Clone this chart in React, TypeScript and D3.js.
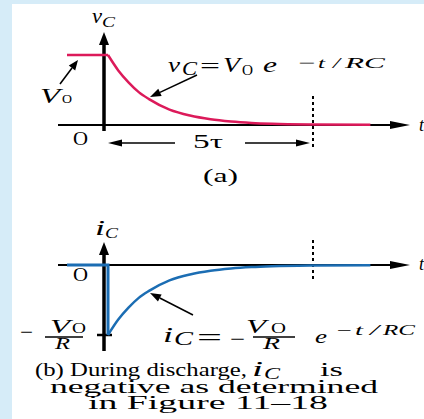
import React from "react";
import * as d3 from "d3";

// Discharge curve samples, in units of the time constant tau and of the initial value
const decayT = [0, 0.25, 0.5, 0.75, 1, 1.5, 2, 2.5, 3, 3.5, 4, 5, 6.4];
const decayV = [1, 0.78, 0.61, 0.47, 0.37, 0.22, 0.135, 0.082, 0.05, 0.03, 0.018, 0.007, 0.002];
// Level held before the switch closes
const preT = [-1, 0];
const preV = [1, 1];
const preI = [0, 0];
// Marked instant: five time constants
const markT = 5;

const W = 424;
const H = 419;
const RED = "#dc1a5a";
const BLUE = "#1b6db3";
const FONT = "'Liberation Serif', 'Times New Roman', serif";

const x = d3.scaleLinear().domain([0, 5]).range([108, 313]);
const yTop = d3.scaleLinear().domain([0, 1]).range([125, 55]);
const yBot = d3.scaleLinear().domain([-1, 0]).range([335, 265]);

const pts = (ts: number[], vs: number[]) => ts.map((t, i) => [t, vs[i]] as [number, number]);

function Arrow({ x1, y1, x2, y2, len = 12, half = 4, w = 1.5 }: any) {
  const a = Math.atan2(y2 - y1, x2 - x1);
  const bx = x2 - len * Math.cos(a);
  const by = y2 - len * Math.sin(a);
  const px = -Math.sin(a) * half;
  const py = Math.cos(a) * half;
  return (
    <g>
      <line x1={x1} y1={y1} x2={bx} y2={by} stroke="#000" strokeWidth={w} />
      <polygon points={`${x2},${y2} ${bx + px},${by + py} ${bx - px},${by - py}`} fill="#000" />
    </g>
  );
}

// Text run; w fixes its width, adjust says whether glyphs or only gaps stretch
function T({ x: tx, y: ty, size = 17, italic = true, w, adjust = "spacingAndGlyphs", children, ...rest }: any) {
  const extra = w ? { textLength: w, lengthAdjust: adjust } : {};
  return (
    <text x={tx} y={ty} fontSize={size} fontStyle={italic ? "italic" : "normal"} fontFamily={FONT} fill="#000" {...extra} {...rest}>
      {children}
    </text>
  );
}

export default function App() {
  const lineTop = d3.line<[number, number]>().x((d) => x(d[0])).y((d) => yTop(d[1]));
  const curveTop = d3.line<[number, number]>().x((d) => x(d[0])).y((d) => yTop(d[1])).curve(d3.curveMonotoneX);
  const lineBot = d3.line<[number, number]>().x((d) => x(d[0])).y((d) => yBot(d[1]));
  const curveBot = d3.line<[number, number]>().x((d) => x(d[0])).y((d) => yBot(d[1])).curve(d3.curveMonotoneX);

  const preTop = pts(preT, preV);
  const decayTop = pts(decayT, decayV);
  const stepBot: [number, number][] = [...pts(preT, preI), [0, -decayV[0]]];
  const decayBot = pts(decayT, decayV.map((v) => -v));

  const axisX = 104;
  const xStart = 58;
  const xEnd = 410;

  return (
    <svg width={W} height={H} style={{ position: "absolute", left: 0, top: 0 }}>
      <rect x={0} y={0} width={W} height={H} fill="#d6ecf8" />
      <rect x={12} y={4} width={W - 12} height={H - 4} fill="#ffffff" />

      {/* (a) capacitor voltage */}
      <line x1={xStart} y1={yTop(0)} x2={xEnd - 16} y2={yTop(0)} stroke="#000" strokeWidth={2} />
      <polygon points={`${xEnd},${yTop(0)} ${xEnd - 20},${yTop(0) - 4} ${xEnd - 20},${yTop(0) + 4}`} fill="#000" />
      <line x1={axisX} y1={131} x2={axisX} y2={42} stroke="#000" strokeWidth={3.5} />
      <polygon points={`${axisX},32 ${axisX - 5},45 ${axisX + 5},45`} fill="#000" />
      <line x1={x(markT)} y1={96} x2={x(markT)} y2={150} stroke="#000" strokeWidth={2} strokeDasharray="3,3" />
      <path d={lineTop(preTop) || ""} fill="none" stroke={RED} strokeWidth={2.5} />
      <path d={curveTop(decayTop) || ""} fill="none" stroke={RED} strokeWidth={2.5} />

      <T x={92} y={23} size={21} w={10}>v</T>
      <T x={102} y={27} size={15} w={13}>C</T>
      <T x={40} y={103} size={22} w={20}>V</T>
      <T x={62} y={103} size={13} w={10} italic={false}>O</T>
      <Arrow x1={60} y1={84} x2={78} y2={60} len={10} half={4} />

      <T x={168} y={72} size={21} w={12}>v</T>
      <T x={182} y={75} size={18} w={15}>C</T>
      <T x={200} y={73} size={21} w={20} italic={false}>=</T>
      <T x={223} y={72} size={20} w={17}>V</T>
      <T x={242} y={75} size={15} w={11} italic={false}>O</T>
      <T x={263} y={72} size={20} w={14}>e</T>
      <T x={298} y={68} size={15} w={17} italic={false}>−</T>
      <T x={318} y={68} size={14} w={7}>t</T>
      <T x={333} y={68} size={14} w={7}>/</T>
      <T x={345} y={68} size={15} w={40}>RC</T>
      <Arrow x1={197} y1={75} x2={150} y2={97} len={11} half={4} />

      <T x={73} y={145} size={18} w={15} italic={false}>O</T>
      <Arrow x1={175} y1={143} x2={108} y2={143} len={14} half={3.5} />
      <Arrow x1={245} y1={143} x2={310} y2={143} len={14} half={3.5} />
      <T x={193} y={148} size={19} w={30} italic={false}>5τ</T>
      <T x={203} y={182} size={19} w={35} italic={false}>(a)</T>
      <T x={419} y={131} size={18}>t</T>

      {/* (b) capacitor current */}
      <line x1={xStart} y1={yBot(0)} x2={xEnd - 16} y2={yBot(0)} stroke="#000" strokeWidth={1.8} />
      <polygon points={`${xEnd},${yBot(0)} ${xEnd - 20},${yBot(0) - 4} ${xEnd - 20},${yBot(0) + 4}`} fill="#000" />
      <line x1={axisX} y1={351} x2={axisX} y2={252} stroke="#000" strokeWidth={3.5} />
      <polygon points={`${axisX},242 ${axisX - 5},255 ${axisX + 5},255`} fill="#000" />
      <line x1={97} y1={yBot(-1)} x2={112} y2={yBot(-1)} stroke="#000" strokeWidth={2.5} />
      <line x1={x(markT)} y1={240} x2={x(markT)} y2={281} stroke="#000" strokeWidth={2} strokeDasharray="3,3" />
      <path d={lineBot(stepBot) || ""} fill="none" stroke={BLUE} strokeWidth={3} />
      <path d={curveBot(decayBot) || ""} fill="none" stroke={BLUE} strokeWidth={2.5} />

      <T x={95} y={235} size={20} w={10}>i</T>
      <T x={105} y={238} size={15} w={13}>C</T>
      <T x={73} y={281} size={18} w={15} italic={false}>O</T>
      <T x={419} y={270} size={18}>t</T>

      <T x={20} y={338} size={18} w={13} italic={false}>−</T>
      <T x={50} y={333} size={19} w={20}>V</T>
      <T x={72} y={333} size={14} w={14} italic={false}>O</T>
      <line x1={45} y1={337} x2={83} y2={337} stroke="#000" strokeWidth={1.3} />
      <T x={55} y={349} size={16} w={15}>R</T>

      <T x={163} y={342} size={22} w={10}>i</T>
      <T x={174} y={345} size={19} w={19}>C</T>
      <T x={197} y={345} size={24} w={25} italic={false}>=</T>
      <T x={230} y={345} size={18} w={15} italic={false}>−</T>
      <T x={246} y={333} size={19} w={20}>V</T>
      <T x={271} y={333} size={14} w={15} italic={false}>O</T>
      <line x1={253} y1={337} x2={295} y2={337} stroke="#000" strokeWidth={1.3} />
      <T x={263} y={349} size={16} w={17}>R</T>
      <T x={315} y={343} size={19} w={12}>e</T>
      <T x={337} y={335} size={14} w={15} italic={false}>−</T>
      <T x={355} y={335} size={14} w={8}>t</T>
      <T x={370} y={335} size={14} w={9}>/</T>
      <T x={383} y={335} size={15} w={32}>RC</T>
      <Arrow x1={193} y1={315} x2={150} y2={293} len={11} half={4} />

      <T x={35} y={376} size={19} italic={false} w={212}>(b) During discharge,</T>
      <T x={252} y={376} size={20} w={11}>i</T>
      <T x={264} y={379} size={16} w={16}>C</T>
      <T x={320} y={376} size={19} italic={false} w={23}>is</T>
      <T x={50} y={393} size={19} italic={false} w={328}>negative as determined</T>
      <T x={88} y={409} size={19} italic={false} w={240}>in Figure 11–18</T>
    </svg>
  );
}
